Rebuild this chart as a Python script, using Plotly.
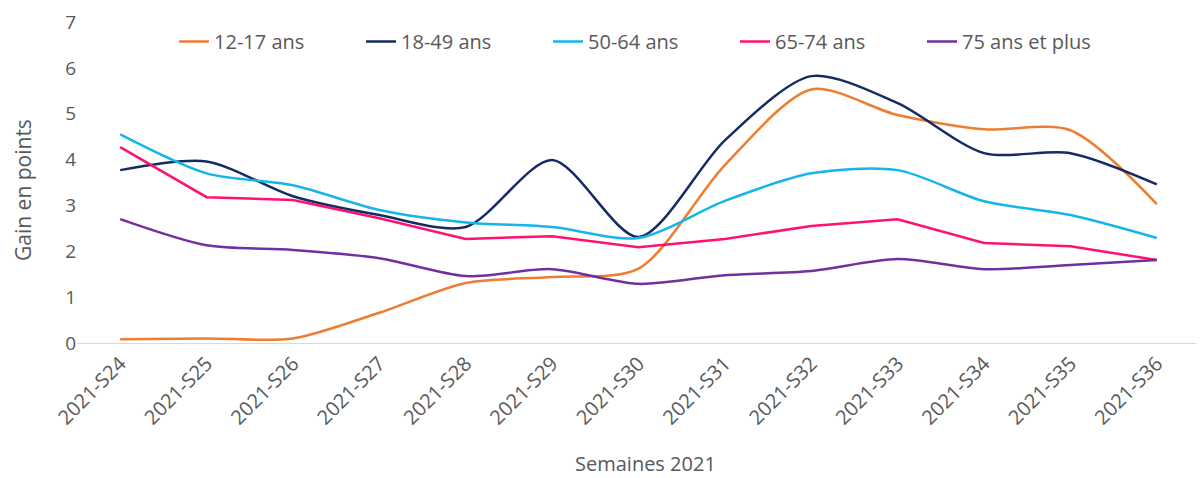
import plotly.graph_objects as go

weeks = ["2021-S24", "2021-S25", "2021-S26", "2021-S27", "2021-S28", "2021-S29", "2021-S30",
         "2021-S31", "2021-S32", "2021-S33", "2021-S34", "2021-S35", "2021-S36"]

a12_17 = [0.08, 0.10, 0.10, 0.66, 1.31, 1.44, 1.62, 3.88, 5.53, 4.97, 4.66, 4.64, 3.03]
a18_49 = [3.77, 3.96, 3.20, 2.79, 2.53, 3.99, 2.31, 4.42, 5.82, 5.23, 4.14, 4.14, 3.46]
a50_64 = [4.55, 3.70, 3.44, 2.90, 2.63, 2.53, 2.29, 3.10, 3.70, 3.77, 3.09, 2.79, 2.29]
a65_74 = [4.27, 3.18, 3.12, 2.72, 2.27, 2.33, 2.09, 2.27, 2.55, 2.70, 2.18, 2.11, 1.81]
a75p = [2.70, 2.13, 2.03, 1.85, 1.46, 1.61, 1.29, 1.48, 1.57, 1.83, 1.61, 1.70, 1.81]

series = [
    ("12-17 ans", a12_17, "#ED7D31", "spline"),
    ("18-49 ans", a18_49, "#142C63", "spline"),
    ("50-64 ans", a50_64, "#13B5EA", "spline"),
    ("65-74 ans", a65_74, "#FF1170", "linear"),
    ("75 ans et plus", a75p, "#7030A0", "spline"),
]

font_family = "Open Sans, Liberation Sans, sans-serif"
grey = "#595959"

fig = go.Figure()
for name, vals, color, shape in series:
    fig.add_trace(go.Scatter(
        x=weeks, y=vals, name=name, mode="lines",
        line=dict(color=color, width=2.5, shape=shape, smoothing=0.8),
    ))

fig.update_layout(
    width=1196, height=470,
    margin=dict(l=69, r=4, t=14, b=135),
    plot_bgcolor="white", paper_bgcolor="white",
    font=dict(family=font_family, color=grey),
    legend=dict(
        orientation="h", x=0.0864, y=1.0, xanchor="left", yanchor="top",
        font=dict(size=20, color=grey),
        entrywidth=142, entrywidthmode="pixels",
        bgcolor="rgba(0,0,0,0)",
    ),
    xaxis=dict(
        type="category", range=[-0.5, 12.5], automargin=False,
        showgrid=False, showline=True, linecolor="#D9D9D9", linewidth=1,
        ticks="", tickangle=-45, tickfont=dict(size=20, color=grey),
    ),
    yaxis=dict(
        range=[0, 7], dtick=1, showgrid=False, zeroline=False, showline=False,
        automargin=False, tickfont=dict(size=19, color=grey), ticks="",
    ),
    annotations=[
        dict(text="Semaines 2021", xref="paper", yref="paper", x=0.506, y=-0.374,
             xanchor="center", yanchor="middle", showarrow=False,
             font=dict(size=20, color=grey)),
        dict(text="Gain en points", xref="paper", yref="paper", x=-0.048, y=0.477,
             xanchor="center", yanchor="middle", textangle=-90, showarrow=False,
             font=dict(size=21, color=grey)),
    ],
)

fig.write_html("out.html")
